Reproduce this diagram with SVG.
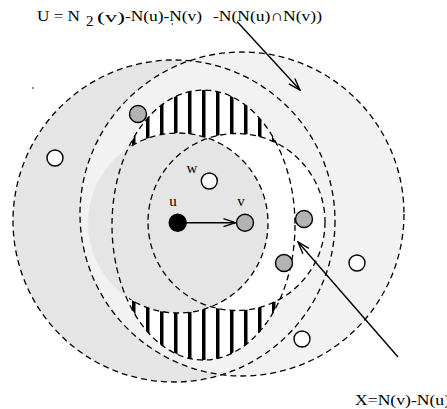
<svg xmlns="http://www.w3.org/2000/svg" width="447" height="409" viewBox="0 0 447 409">
<style>
.d{fill:none;stroke:#000;stroke-width:1.3;stroke-dasharray:6 4}
.n{stroke:#000;stroke-width:1.4}
.t{font-family:"Liberation Serif","Times New Roman",serif;font-size:15px;fill:#000}
.a{stroke:#000;stroke-width:1.4;fill:none}
</style>
<defs>
<pattern id="h" x="132" y="0" width="14" height="20" patternUnits="userSpaceOnUse"><rect x="0" y="0" width="14" height="20" fill="#fff"/><rect x="0" y="0" width="3.5" height="20" fill="#000"/></pattern>
<marker id="ah" viewBox="0 0 14 10" refX="13" refY="5" markerWidth="14" markerHeight="10" orient="auto" markerUnits="userSpaceOnUse"><path d="M1,1 L13,5 L1,9" fill="none" stroke="#000" stroke-width="1.4"/></marker>
</defs>
<g id="regions">
<circle cx="174" cy="221" r="161" fill="#e5e5e5"/>
<circle cx="242" cy="214" r="162" fill="#f2f2f2"/>
<ellipse cx="203.5" cy="225" rx="91.5" ry="135" fill="url(#h)"/>
<circle cx="236.5" cy="222" r="88.5" fill="#fff"/>
<circle cx="178" cy="223" r="90" fill="#e5e5e5"/>
</g>
<g id="dashed">
<circle class="d" cx="174" cy="221" r="161"/>
<circle class="d" cx="242" cy="214" r="162"/>
<ellipse class="d" cx="203.5" cy="225" rx="91.5" ry="135"/>
<circle class="d" cx="236.5" cy="222" r="88.5"/>
<path class="d" d="M131.6,145.9 A90,90 0 1 1 129,298.5"/>
</g>
<g id="connectors">
<line class="a" x1="186" y1="222.7" x2="235.5" y2="222.7" marker-end="url(#ah)"/>
<line class="a" x1="237" y1="21.5" x2="300" y2="90" marker-end="url(#ah)"/>
<line class="a" x1="398" y1="357" x2="298" y2="242" marker-end="url(#ah)"/>
</g>
<g id="node-u"><circle class="n" cx="177.7" cy="222.7" r="8.5" fill="#000"/><text class="t" x="173" y="205.5" text-anchor="middle">u</text></g>
<g id="node-v"><circle class="n" cx="245" cy="222.7" r="8.5" fill="#b3b3b3"/><text class="t" x="241" y="205.5" text-anchor="middle">v</text></g>
<g id="node-w"><circle class="n" cx="209.3" cy="181" r="8" fill="#fafafa"/><text class="t" x="192" y="172.7" text-anchor="middle">w</text></g>
<g id="node-g1"><circle class="n" cx="138" cy="114" r="8.5" fill="#b3b3b3"/></g>
<g id="node-g2"><circle class="n" cx="304" cy="219" r="8.5" fill="#b3b3b3"/></g>
<g id="node-g3"><circle class="n" cx="284" cy="263" r="8.5" fill="#b3b3b3"/></g>
<g id="node-o1"><circle class="n" cx="55" cy="158" r="8" fill="#fff"/></g>
<g id="node-o2"><circle class="n" cx="357" cy="263" r="8" fill="#fff"/></g>
<g id="node-o3"><circle class="n" cx="302" cy="339" r="8" fill="#fff"/></g>
<g id="labels">
<text class="t" x="37" y="20.5" textLength="43" lengthAdjust="spacingAndGlyphs">U = N</text>
<text class="t" x="86" y="26">2</text>
<text class="t" x="97" y="21.5" font-size="20" textLength="28" lengthAdjust="spacingAndGlyphs">(v)</text>
<text class="t" x="125" y="20.5" textLength="77" lengthAdjust="spacingAndGlyphs">-N(u)-N(v)</text>
<text class="t" x="213" y="20.5" textLength="109" lengthAdjust="spacingAndGlyphs">-N(N(u)∩N(v))</text>
<circle cx="172.3" cy="24" r="0.8" fill="#000"/>
<circle cx="33" cy="88" r="0.8" fill="#000"/>
<text class="t" x="355" y="405" font-size="16" textLength="95" lengthAdjust="spacingAndGlyphs">X=N(v)-N(u)</text>
</g>
</svg>
